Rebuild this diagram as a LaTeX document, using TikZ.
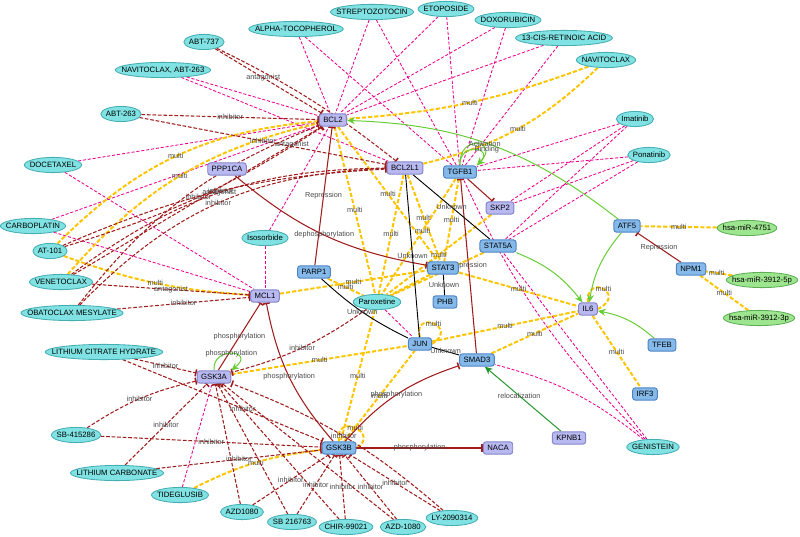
\documentclass[tikz,border=0pt]{standalone}
\usepackage{fontspec}
\setmainfont{Liberation Sans}
\usetikzlibrary{arrows.meta,shapes.geometric,backgrounds}

\definecolor{drugfill}{HTML}{80E2E2}
\definecolor{drugline}{HTML}{46ADB3}
\definecolor{protfill}{HTML}{B9B9F2}
\definecolor{protline}{HTML}{8484C8}
\definecolor{genefill}{HTML}{84B9EA}
\definecolor{geneline}{HTML}{4F84C4}
\definecolor{mirfill}{HTML}{9DE58F}
\definecolor{mirline}{HTML}{5DAF55}
\definecolor{inhred}{HTML}{A01C1C}
\definecolor{multigold}{HTML}{FFC400}
\definecolor{actgreen}{HTML}{66CC33}
\definecolor{relgreen}{HTML}{22962A}
\definecolor{lblgray}{HTML}{4A4A4A}

\newcommand{\drugtxt}[1]{\makebox[0.74\width]{#1}}

\begin{document}
\begin{tikzpicture}[x=0.025cm, y=-0.025cm,
    every node/.style={font=\fontsize{5.5}{6}\selectfont},
    drug/.style={ellipse, draw=drugline, fill=drugfill, line width=0.6pt, inner xsep=2.2pt, inner ysep=0.5pt, minimum height=3.8mm},
    mirna/.style={drug, draw=mirline, fill=mirfill},
    prot/.style={rectangle, rounded corners=2pt, draw=protline, fill=protfill, line width=0.7pt, inner xsep=1mm, inner ysep=0.5pt, minimum height=3.1mm},
    gene/.style={prot, draw=geneline, fill=genefill},
    lbl/.style={font=\fontsize{5.2}{5.5}\selectfont, text=lblgray, inner sep=0.3pt},
    dti/.style={magenta, line width=0.6pt, dash pattern=on 2.2pt off 1.3pt},
    inh/.style={inhred, line width=0.75pt, dash pattern=on 2.6pt off 1.3pt, -{Bar[width=5pt,line width=1.1pt]}},
    multi/.style={multigold, line width=1.4pt, dash pattern=on 3pt off 1.4pt},
    rep/.style={inhred, line width=0.75pt, -{Bar[width=5pt,line width=1.1pt]}},
    unk/.style={black, line width=0.65pt},
    act/.style={actgreen, line width=0.7pt, -{Stealth[length=5.5pt,width=5pt]}},
    rel/.style={act, relgreen}]
  \useasboundingbox (0,0) rectangle (800,537);

  \node[drug] (abt737) at (204,42) {\drugtxt{ABT-737}};
  \node[drug] (atoco) at (296,29) {\drugtxt{ALPHA-TOCOPHEROL}};
  \node[drug] (strep) at (372,12) {\drugtxt{STREPTOZOTOCIN}};
  \node[drug] (etop) at (446,9) {\drugtxt{ETOPOSIDE}};
  \node[drug] (doxo) at (508,20) {\drugtxt{DOXORUBICIN}};
  \node[drug] (retin) at (564,38) {\drugtxt{13-CIS-RETINOIC ACID}};
  \node[drug] (navi) at (606,60) {\drugtxt{NAVITOCLAX}};
  \node[drug] (naviabt) at (163,70) {\drugtxt{NAVITOCLAX, ABT-263}};
  \node[drug] (abt263) at (121,114) {\drugtxt{ABT-263}};
  \node[drug] (docet) at (53,165) {\drugtxt{DOCETAXEL}};
  \node[drug] (imat) at (635,119) {\drugtxt{Imatinib}};
  \node[drug] (ponat) at (649,155) {\drugtxt{Ponatinib}};
  \node[drug] (carbo) at (33,226) {\drugtxt{CARBOPLATIN}};
  \node[drug] (at101) at (50,251) {\drugtxt{AT-101}};
  \node[drug] (isos) at (265,238) {\drugtxt{Isosorbide}};
  \node[drug] (venet) at (61,282) {\drugtxt{VENETOCLAX}};
  \node[drug] (obato) at (72,313) {\drugtxt{OBATOCLAX MESYLATE}};
  \node[drug] (parox) at (377,302) {\drugtxt{Paroxetine}};
  \node[drug] (licit) at (104,352) {\drugtxt{LITHIUM CITRATE HYDRATE}};
  \node[drug] (sb415) at (76,435) {\drugtxt{SB-415286}};
  \node[drug] (licarb) at (117,473) {\drugtxt{LITHIUM CARBONATE}};
  \node[drug] (tideg) at (180,495) {\drugtxt{TIDEGLUSIB}};
  \node[drug] (azd1080) at (242,512) {\drugtxt{AZD1080}};
  \node[drug] (sb216) at (292,522) {\drugtxt{SB 216763}};
  \node[drug] (chir) at (346,527) {\drugtxt{CHIR-99021}};
  \node[drug] (azd1080b) at (403,527) {\drugtxt{AZD-1080}};
  \node[drug] (ly209) at (452,518) {\drugtxt{LY-2090314}};
  \node[drug] (genis) at (653,447) {\drugtxt{GENISTEIN}};

  \node[mirna] (mir4751) at (747,228) {\drugtxt{hsa-miR-4751}};
  \node[mirna] (mir5p) at (762,280) {\drugtxt{hsa-miR-3912-5p}};
  \node[mirna] (mir3p) at (759,318) {\drugtxt{hsa-miR-3912-3p}};

  \node[prot] (bcl2) at (333,120) {BCL2};
  \node[prot] (bcl2l1) at (405,168) {BCL2L1};
  \node[prot] (ppp1ca) at (227,169) {PPP1CA};
  \node[prot] (skp2) at (500,208) {SKP2};
  \node[prot] (mcl1) at (265,296) {MCL1};
  \node[prot] (il6) at (588,309) {IL6};
  \node[prot] (gsk3a) at (214,377) {GSK3A};
  \node[prot] (naca) at (498,448) {NACA};
  \node[prot] (kpnb1) at (569,438) {KPNB1};

  \node[gene] (tgfb1) at (460,172) {TGFB1};
  \node[gene] (stat5a) at (498,246) {STAT5A};
  \node[gene] (atf5) at (627,226) {ATF5};
  \node[gene] (npm1) at (691,269) {NPM1};
  \node[gene] (parp1) at (314,272) {PARP1};
  \node[gene] (stat3) at (443,268) {STAT3};
  \node[gene] (phb) at (445,302) {PHB};
  \node[gene] (jun) at (420,344) {JUN};
  \node[gene] (smad3) at (477,360) {SMAD3};
  \node[gene] (tfeb) at (662,345) {TFEB};
  \node[gene] (irf3) at (645,394) {IRF3};
  \node[gene] (gsk3b) at (339,448) {GSK3B};

  \begin{scope}[on background layer]
    \foreach \a/\b in {atoco/bcl2, atoco/tgfb1, strep/bcl2, strep/tgfb1, etop/bcl2, etop/tgfb1,
        doxo/bcl2, doxo/tgfb1, retin/bcl2, retin/tgfb1, naviabt/bcl2, naviabt/bcl2l1,
        docet/bcl2, docet/mcl1, carbo/bcl2, carbo/mcl1, isos/bcl2, isos/mcl1,
        imat/tgfb1, imat/skp2, imat/stat5a, ponat/tgfb1, ponat/skp2, ponat/stat5a,
        parox/jun, tideg/gsk3a, genis/stat5a}
      \draw[dti] (\a) -- (\b);
    \draw[dti] (genis) to[bend left=10] (tgfb1);
    \draw[dti] (genis) to[bend right=12] (smad3);

    \draw[multi] (navi) to[bend left=8] node[lbl]{multi} (bcl2);
    \draw[multi] (navi) to[bend left=15] node[lbl]{multi} (bcl2l1);
    \draw[multi] (at101) to[bend left=20] node[lbl]{multi} (bcl2);
    \draw[multi] (venet) to[bend left=18] node[lbl]{multi} (bcl2);
    \draw[multi] (at101) to[bend right=8] node[lbl]{multi} (mcl1);
    \draw[multi] (bcl2) -- node[lbl]{multi} (parox);
    \draw[multi] (bcl2) -- node[lbl]{multi} (stat3);
    \draw[multi] (bcl2l1) -- node[lbl]{multi} (parox);
    \draw[multi] (bcl2l1) -- node[lbl]{multi} (stat3);
    \draw[multi] (tgfb1) -- node[lbl,pos=.45]{multi} (parox);
    \draw[multi] (tgfb1) -- node[lbl]{multi} (stat3);
    \draw[multi] (skp2) -- node[lbl]{multi} (parox);
    \draw[multi] (stat5a) -- node[lbl,pos=.4]{multi} (parox);
    \draw[multi] (stat3) -- (parox);
    \draw[multi] (parp1) -- node[lbl]{multi} (parox);
    \draw[multi] (mcl1) -- node[lbl]{multi} (stat3);
    \draw[multi] (stat3) -- node[lbl]{multi} (il6);
    \draw[multi] (jun) -- node[lbl]{multi} (il6);
    \draw[multi] (smad3) -- node[lbl]{multi} (il6);
    \draw[multi] (il6) -- node[lbl]{multi} (irf3);
    \draw[multi] (mir4751) -- node[lbl]{multi} (atf5);
    \draw[multi] (mir5p) -- node[lbl,pos=.6]{multi} (npm1);
    \draw[multi] (mir3p) -- node[lbl]{multi} (npm1);
    \draw[multi] (gsk3a) -- node[lbl]{multi} (jun);
    \draw[multi] (parox) -- node[lbl]{multi} (gsk3b);
    \draw[multi] (gsk3b) -- node[lbl]{multi} (jun);
    \draw[multi] (tideg) to[bend left=10] node[lbl]{multi} (gsk3b);
    \draw[multi] (jun.north) .. controls +(-8,-28) and +(28,-18) .. node[lbl]{multi} (jun.east);
    \draw[multi] (il6.north) .. controls +(-2,-30) and +(30,-15) .. node[lbl]{multi} (il6.east);
    \draw[multi] (gsk3b.north) .. controls +(-5,-30) and +(25,-15) .. node[lbl]{multi} (gsk3b.east);

    \draw[inh] (abt737) -- node[lbl,pos=.45]{antagonist} (bcl2);
    \draw[inh] (abt737) to[bend left=6] (bcl2l1);
    \draw[inh] (abt263) -- node[lbl]{inhibitor} (bcl2);
    \draw[inh] (abt263) -- node[lbl]{inhibitor} (bcl2l1);
    \draw[inh] (at101) to[bend right=8] node[lbl]{inhibitor} (bcl2);
    \draw[inh] (at101) to[bend left=10] node[lbl]{inhibitor} (bcl2l1);
    \draw[inh] (venet) to[bend left=18] node[lbl]{antagonist} (bcl2l1);
    \draw[inh] (venet) -- node[lbl,pos=.88]{antagonist} (bcl2);
    \draw[inh] (obato) to[bend left=15] (bcl2);
    \draw[inh] (obato) to[bend left=22] node[lbl]{inhibitor} (bcl2l1);
    \draw[inh] (venet) -- node[lbl]{antagonist} (mcl1);
    \draw[inh] (obato) -- node[lbl]{inhibitor} (mcl1);
    \draw[inh] (parox) to[bend left=10] node[lbl]{inhibitor} (gsk3a);
    \draw[inh] (licit) -- node[lbl]{inhibitor} (gsk3a);
    \draw[inh] (licit) -- node[lbl,pos=.6]{inhibitor} (gsk3b);
    \draw[inh] (sb415) to[bend left=10] node[lbl]{inhibitor} (gsk3a);
    \draw[inh] (sb415) -- node[lbl]{inhibitor} (gsk3b);
    \draw[inh] (licarb) -- node[lbl]{inhibitor} (gsk3a);
    \draw[inh] (licarb) -- node[lbl]{inhibitor} (gsk3b);
    \foreach \d in {azd1080, sb216, chir, azd1080b}
      \draw[inh] (\d) -- (gsk3a);
    \draw[inh] (ly209) to[bend right=10] node[lbl]{inhibitor} (gsk3a);
    \foreach \d in {azd1080, sb216, chir, azd1080b, ly209}
      \draw[inh] (\d) -- node[lbl]{inhibitor} (gsk3b);

    \draw[rep] (parp1) -- node[lbl]{Repression} (bcl2);
    \draw[rep] (ppp1ca) to[bend right=15] node[lbl]{dephosphorylation} (stat3);
    \draw[rep] (tgfb1) -- (skp2);
    \draw[rep] (smad3) -- node[lbl]{Repression} (tgfb1);
    \draw[rep] (npm1) -- node[lbl]{Repression} (atf5);
    \draw[rep] (gsk3a) -- node[lbl]{phosphorylation} (mcl1);
    \draw[rep] (gsk3b) to[bend left=15] node[lbl]{phosphorylation} (mcl1);
    \draw[rep] (gsk3b) to[bend left=15] node[lbl]{phosphorylation} (smad3);
    \draw[rep] (gsk3b) -- node[lbl]{phosphorylation} (naca);

    \draw[unk] (bcl2l1) -- node[lbl]{Unknown} (stat5a);
    \draw[unk] (bcl2l1) -- node[lbl]{Unknown} (jun);
    \draw[unk] (stat3) -- node[lbl]{Unknown} (phb);
    \draw[unk] (parp1) to[bend right=8] node[lbl]{Unknown} (jun);
    \draw[unk] (jun) -- node[lbl]{Unknown} (smad3);

    \draw[act] (atf5) to[bend right=18] (bcl2);
    \draw[act] (stat5a) to[bend left=15] (il6);
    \draw[act] (atf5) to[bend right=15] (il6);
    \draw[act] (tfeb) to[bend right=15] (il6);
    \draw[rel] (kpnb1) -- node[lbl,pos=.55]{relocalization} (smad3);
    \draw[act] (tgfb1.north) .. controls +(-2,-32) and +(24,-25) .. node[lbl,xshift=2mm]{Activation} (tgfb1.north east);
    \draw[act] (tgfb1.north) .. controls +(-1,-24) and +(18,-18) .. node[lbl,xshift=3mm]{Binding} (tgfb1.north east);
    \draw[act] (gsk3a.north) .. controls +(-2,-25) and +(25,-20) .. node[lbl]{phosphorylation} (gsk3a.north east);
  \end{scope}
\end{tikzpicture}
\end{document}
